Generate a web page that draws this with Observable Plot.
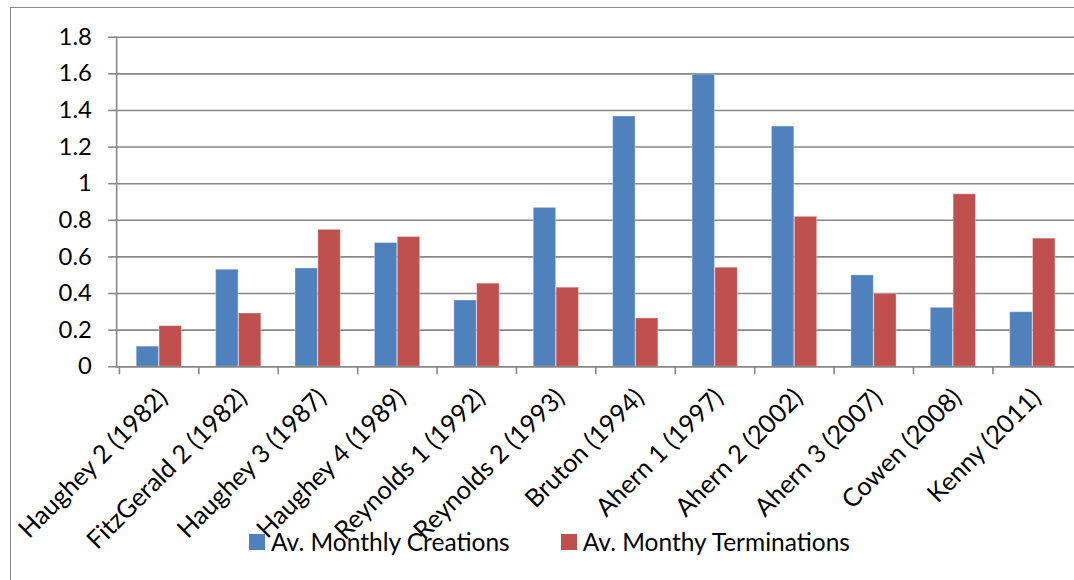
<!DOCTYPE html>
<html>
<head>
<meta charset="utf-8">
<script src="https://cdn.jsdelivr.net/npm/d3@7"></script>
<script src="https://cdn.jsdelivr.net/npm/@observablehq/plot@0.6"></script>
<style>
  html, body { margin: 0; padding: 0; background: #fff; overflow: hidden; }
  #wrap { position: relative; width: 1074px; height: 580px; overflow: hidden; background: #fff; font-family: Lato, "Open Sans", sans-serif; }
  #border { position: absolute; left: 10px; top: 7px; width: 1100px; height: 600px; border: 1.5px solid #8a8a8a; box-sizing: border-box; }
  #chart { position: absolute; left: 0; top: 0; }
  #legend { position: absolute; top: 527px; left: 249px; display: flex; align-items: center; font-size: 24.5px; color: #000; white-space: nowrap; }
  .sw { width: 16px; height: 16px; display: inline-block; margin-right: 6px; }
  .item { display: flex; align-items: center; }
</style>
</head>
<body>
<div id="wrap">
  <div id="border"></div>
  <div id="chart"></div>
  <div id="legend"></div>
</div>
<script>
const categories = [
  "Haughey 2 (1982)", "FitzGerald 2 (1982)", "Haughey 3 (1987)", "Haughey 4 (1989)",
  "Reynolds 1 (1992)", "Reynolds 2 (1993)", "Bruton (1994)", "Ahern 1 (1997)",
  "Ahern 2 (2002)", "Ahern 3 (2007)", "Cowen (2008)", "Kenny (2011)"
];
const creations = [0.11, 0.53, 0.537, 0.676, 0.362, 0.868, 1.367, 1.596, 1.312, 0.499, 0.322, 0.298];
const terminations = [0.222, 0.291, 0.748, 0.709, 0.454, 0.432, 0.264, 0.541, 0.819, 0.398, 0.942, 0.70];
const seriesNames = ["Av. Monthly Creations", "Av. Monthy Terminations"];
const seriesColors = ["#4F81BD", "#C0504D"];
const yTicks = [0, 0.2, 0.4, 0.6, 0.8, 1, 1.2, 1.4, 1.6, 1.8];

const W = 1082, H = 580, mL = 117, mR = 0, mT = 37, mB = 211;
const step = (W - mL - mR) / categories.length;
const barW = 23;
const gray = "#878787";

const dataC = categories.map((c, i) => ({category: c, value: creations[i]}));
const dataT = categories.map((c, i) => ({category: c, value: terminations[i]}));

const chart = Plot.plot({
  width: W, height: H,
  marginLeft: mL, marginRight: mR, marginTop: mT, marginBottom: mB,
  style: {fontFamily: "Lato, 'Open Sans', sans-serif", color: "#000", background: "transparent"},
  x: {domain: categories, padding: 0, label: null},
  y: {domain: [0, 1.8], label: null},
  marks: [
    Plot.gridY(yTicks, {stroke: gray, strokeOpacity: 1, strokeWidth: 1.6}),
    Plot.barY(dataC, {x: "category", y: "value", fill: seriesColors[0],
      insetLeft: step / 2 - barW, insetRight: step / 2, stroke: "#fff", strokeOpacity: 0.35, strokeWidth: 1}),
    Plot.barY(dataT, {x: "category", y: "value", fill: seriesColors[1],
      insetLeft: step / 2, insetRight: step / 2 - barW, stroke: "#fff", strokeOpacity: 0.35, strokeWidth: 1}),
    Plot.ruleY([0], {stroke: gray, strokeWidth: 1.6}),
    Plot.frame({anchor: "left", stroke: gray, strokeWidth: 1.6}),
    Plot.axisY({ticks: yTicks, tickSize: 8, tickPadding: 17, stroke: gray, strokeWidth: 1.6,
      fill: "#000", fontSize: 24, tickFormat: d => String(+d.toFixed(1)), label: null}),
    Plot.axisX({tickSize: 8, dx: -step / 2, stroke: gray, strokeWidth: 1.6, tickFormat: () => "", label: null}),
    Plot.axisX({tickSize: 0, tickPadding: 27, tickRotate: -45, dx: 4, fill: "#000", fontSize: 25.5, label: null})
  ]
});
document.getElementById("chart").appendChild(chart);

const legend = document.getElementById("legend");
seriesNames.forEach((name, i) => {
  const item = document.createElement("div");
  item.className = "item";
  item.style.marginRight = i === 0 ? "51px" : "0";
  const sw = document.createElement("span");
  sw.className = "sw";
  sw.style.background = seriesColors[i];
  const label = document.createElement("span");
  label.textContent = name;
  item.appendChild(sw);
  item.appendChild(label);
  legend.appendChild(item);
});
</script>
</body>
</html>
